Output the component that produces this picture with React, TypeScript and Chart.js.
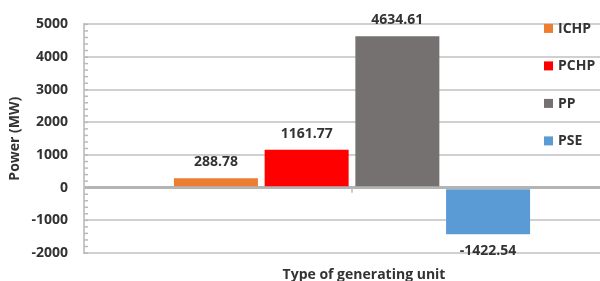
import React, { useEffect, useRef } from "react";
import { Chart, registerables } from "chart.js";

Chart.register(...registerables);

const categories = [""];
const seriesNames = ["ICHP", "PCHP", "PP", "PSE"];
const seriesValues = [288.78, 1161.77, 4634.61, -1422.54];
const seriesColors = ["#ED7D31", "#FF0000", "#767171", "#5B9BD5"];
const yMin = -2000;
const yMax = 5000;
const yStep = 1000;
const minorStep = 200;
const yTitle = "Power (MW)";
const xTitle = "Type of generating unit";

const FONT = "'Open Sans', 'DejaVu Sans', sans-serif";
const TEXT = "#333333";

const overlayPlugin = {
  id: "overlay",
  afterDatasetsDraw(chart: any) {
    const ctx = chart.ctx;
    const y = chart.scales.y;
    const x = chart.scales.x;
    const area = chart.chartArea;
    ctx.save();
    // minor ticks on the y axis (inside the plot)
    ctx.strokeStyle = "#bababa";
    ctx.lineWidth = 1.5;
    for (let v = yMin; v <= yMax; v += minorStep) {
      const py = y.getPixelForValue(v);
      ctx.beginPath();
      ctx.moveTo(area.left, py);
      ctx.lineTo(area.left + 4, py);
      ctx.stroke();
    }
    // category tick below the zero line
    const zero = y.getPixelForValue(0);
    const cx = x.getPixelForValue(0);
    ctx.beginPath();
    ctx.moveTo(cx, zero);
    ctx.lineTo(cx, zero + 5);
    ctx.stroke();

    // value labels
    ctx.fillStyle = TEXT;
    ctx.font = `bold 14px ${FONT}`;
    ctx.textAlign = "center";
    ctx.textBaseline = "middle";
    chart.data.datasets.forEach((ds: any, i: number) => {
      const meta = chart.getDatasetMeta(i);
      meta.data.forEach((bar: any, j: number) => {
        const v = ds.data[j];
        const label = v.toFixed(2);
        const py = v >= 0 ? bar.y - 16 : bar.y + 17;
        ctx.fillText(label, bar.x, py);
      });
    });

    // legend overlaid on the right of the plot
    const lx = area.right - 76;
    chart.data.datasets.forEach((ds: any, i: number) => {
      const cy = area.top + 4 + i * 37.5;
      ctx.fillStyle = ds.backgroundColor;
      ctx.fillRect(lx, cy - 4.5, 9, 9);
      ctx.fillStyle = TEXT;
      ctx.textAlign = "left";
      ctx.fillText(ds.label, lx + 14, cy + 0.5);
    });

    // x axis title
    ctx.textAlign = "center";
    ctx.textBaseline = "alphabetic";
    ctx.font = `bold 14px ${FONT}`;
    ctx.fillText(xTitle, (area.left + area.right) / 2 + 12, area.bottom + 26);
    ctx.restore();
  },
};

export default function App() {
  const ref = useRef<HTMLCanvasElement | null>(null);
  useEffect(() => {
    if (!ref.current) return;
    const chart = new Chart(ref.current, {
      type: "bar",
      data: {
        labels: categories,
        datasets: seriesNames.map((name, i) => ({
          label: name,
          data: [seriesValues[i]],
          backgroundColor: seriesColors[i],
          borderWidth: 0,
          categoryPercentage: 0.677,
          barPercentage: 0.926,
        })),
      },
      options: {
        responsive: false,
        animation: false,
        layout: { padding: { top: 21, right: 20, left: 0, bottom: 0 } },
        plugins: {
          legend: { display: false },
          tooltip: { enabled: false },
        },
        scales: {
          x: {
            ticks: { display: false },
            grid: { display: false },
            border: { display: false },
            afterFit: (s: any) => {
              s.height = 28;
            },
          },
          y: {
            min: yMin,
            max: yMax,
            ticks: {
              stepSize: yStep,
              padding: 16,
              color: TEXT,
              font: { family: FONT, size: 14, weight: "bold" },
              callback: (v: any) => String(v),
            },
            grid: {
              drawTicks: false,
              color: (c: any) => (c.tick && c.tick.value === 0 ? "#b4b4b4" : "#d0d0d0"),
              lineWidth: (c: any) => (c.tick && c.tick.value === 0 ? 3 : 2),
            },
            border: { display: true, color: "#c8c8c8", width: 2 },
            title: {
              display: true,
              text: yTitle,
              color: TEXT,
              font: { family: FONT, size: 14, weight: "bold" },
              padding: { top: 7, bottom: 0 },
            },
            afterFit: (s: any) => {
              s.width = 84;
            },
          },
        },
      },
      plugins: [overlayPlugin],
    });
    return () => chart.destroy();
  }, []);
  return (
    <div
      style={{
        position: "fixed",
        left: 0,
        top: 0,
        width: 600,
        height: 281,
        overflow: "hidden",
        background: "#fff",
      }}
    >
      <canvas ref={ref} width={640} height={281} style={{ display: "block" }} />
    </div>
  );
}
